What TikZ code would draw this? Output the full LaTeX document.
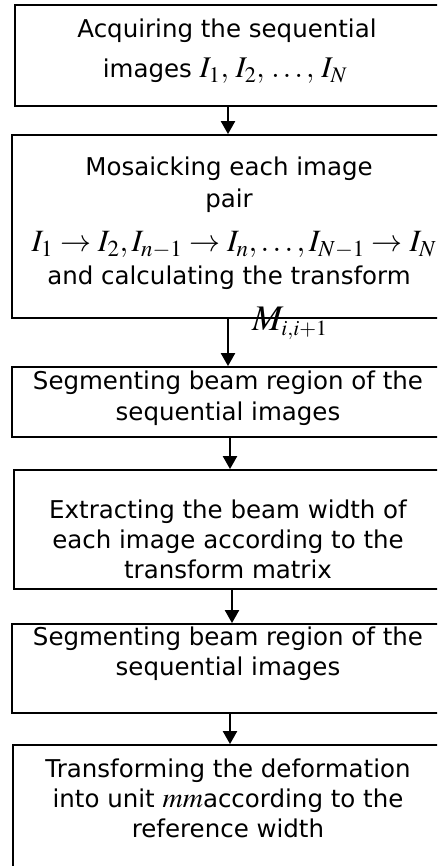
\documentclass[tikz,border=0pt]{standalone}
\usepackage{mathptmx}
\usepackage[no-math]{fontspec}
\setmainfont{DejaVu Sans}
\usetikzlibrary{arrows.meta}
\tikzset{
  box/.style={draw=black, line width=1.8pt, inner sep=0pt},
  txt/.style={anchor=base, inner sep=0pt, font=\fontsize{24.5}{30}\selectfont},
  arr/.style={line width=2.2pt, -{Triangle[width=14pt,length=13pt]}},
}
\newcommand{\mth}[2]{{\fontsize{#1}{#1}\selectfont$#2$}}
\begin{document}
\begin{tikzpicture}[x=1pt,y=-1pt]
\useasboundingbox (0,0) rectangle (437,866);
\begin{scope}
\clip (0,0) rectangle (437,866);
% boxes
\node[box, minimum width=428pt, minimum height=101pt] (b1) at (229,55.5) {};
\node[box, minimum width=431pt, minimum height=183pt] (b2) at (227.5,226.5) {};
\node[box, minimum width=431pt, minimum height=70pt] (b3) at (227.5,402) {};
\node[box, minimum width=429pt, minimum height=119pt] (b4) at (228.5,529.5) {};
\node[box, minimum width=431pt, minimum height=89pt] (b5) at (227.5,668.5) {};
\node[box, minimum width=430pt, minimum height=122pt] (b6) at (228,806) {};
\end{scope}
% texts
\node[txt] (t11) at (227,38) {Acquiring the sequential};
\node[txt] (t12) at (225,78) {images \mth{30}{I_1,\,I_2,\,\ldots,\,I_N}};
\node[txt] (t21) at (229,176) {Mosaicking each image};
\node[txt] (t22) at (229,208) {pair};
\node[txt] (t23) at (234,252) {\mth{31}{I_1\rightarrow I_2,I_{n-1}\rightarrow I_n,\ldots,I_{N-1}\rightarrow I_N}};
\node[txt] (t24) at (229,284) {and calculating the transform};
\node[txt, anchor=base west] (t25) at (252,330) {\mth{36}{M_{\scriptscriptstyle i,i+1}}};
\node[txt] (t31) at (228,389) {Segmenting beam region of the};
\node[txt] (t32) at (228,420) {sequential images};
\node[txt] (t41) at (228,518) {Extracting the beam width of};
\node[txt] (t42) at (228,548) {each image according to the};
\node[txt] (t43) at (228,578) {transform matrix};
\node[txt] (t51) at (228,645) {Segmenting beam region of the};
\node[txt] (t52) at (228,675) {sequential images};
\node[txt] (t61) at (228,777) {Transforming the deformation};
\node[txt] (t62) at (228,807) {into unit \mth{28}{mm}according to the};
\node[txt] (t63) at (228,837) {reference width};
% arrows
\coordinate (a1) at (228,0);
\coordinate (a2) at (228,0);
\coordinate (a3) at (230,0);
\coordinate (a4) at (232,0);
\coordinate (a5) at (230,0);
\draw[arr] (b1.south -| a1) -- (b2.north -| a1);
\draw[arr] (b2.south -| a2) -- (b3.north -| a2);
\draw[arr] (b3.south -| a3) -- (b4.north -| a3);
\draw[arr] (b4.south -| a4) -- (b5.north -| a4);
\draw[arr] (b5.south -| a5) -- (b6.north -| a5);
\end{tikzpicture}
\end{document}
